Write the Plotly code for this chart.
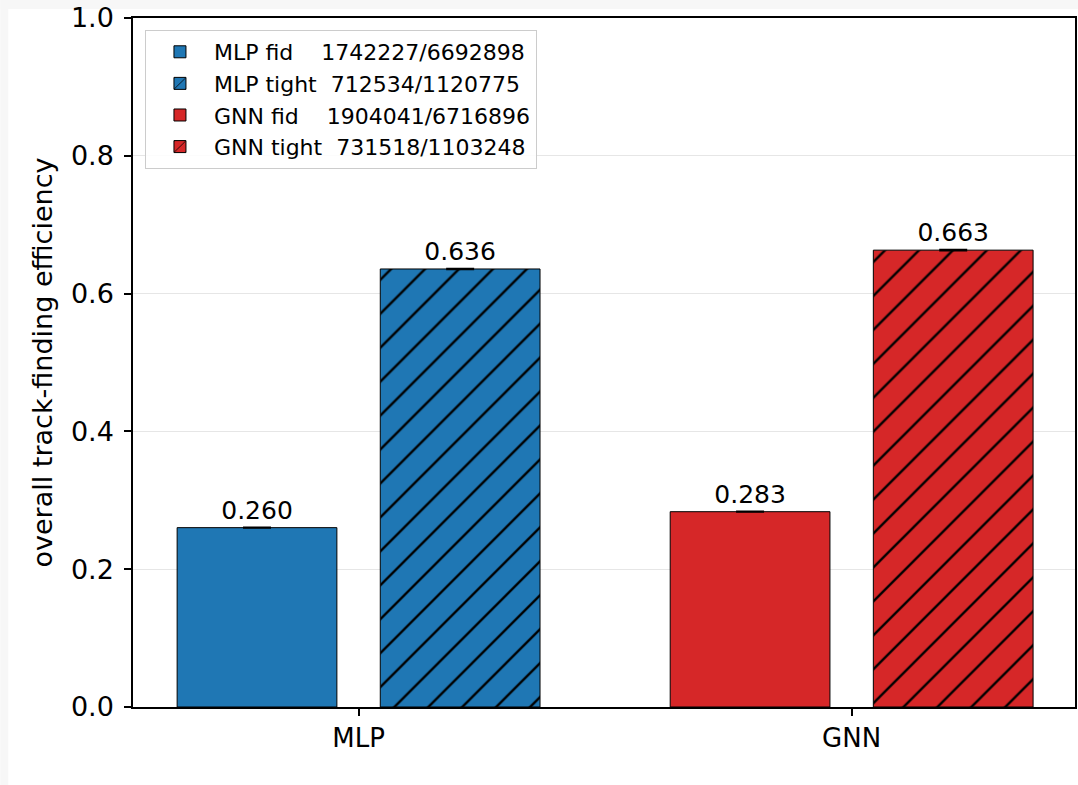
import math
import plotly.graph_objects as go

# ---- data ----
categories = ["MLP", "GNN"]
series_names = ["MLP fid", "MLP tight", "GNN fid", "GNN tight"]
series_category = ["MLP", "MLP", "GNN", "GNN"]
numerators = [1742227, 712534, 1904041, 731518]
denominators = [6692898, 1120775, 6716896, 1103248]
legend_gaps = [4, 2, 4, 2]
y_ticks = [0.0, 0.2, 0.4, 0.6, 0.8, 1.0]

# ---- styles ----
BLUE = "#1f77b4"
RED = "#d62728"
colors = [BLUE, BLUE, RED, RED]
hatched = [False, True, False, True]
offsets = [-0.368, 0.044, -0.368, 0.044]
BAR_W = 0.324
FONT = "DejaVu Sans, Liberation Sans, sans-serif"

fig = go.Figure()
for name, cat, num, den, col, hat, off, gap in zip(
        series_names, series_category, numerators, denominators,
        colors, hatched, offsets, legend_gaps):
    p = num / den
    err = math.sqrt(p * (1 - p) / den)
    label = name + "\u00a0" * gap + f"{num}/{den}"
    marker = dict(color=col, line=dict(color="black", width=1))
    if hat:
        marker["pattern"] = dict(shape="/", fgcolor="black", bgcolor=col,
                                 size=24, solidity=0.1, fillmode="replace")
    fig.add_trace(go.Bar(
        x=[cat], y=[p], name=label,
        width=BAR_W, offset=off,
        marker=marker,
        error_y=dict(type="data", array=[err], visible=True,
                     color="black", thickness=2, width=14),
        text=[f"{p:.3f}"], textposition="outside",
        textfont=dict(family=FONT, size=25, color="black"),
        cliponaxis=False,
    ))

fig.update_layout(
    width=1078, height=785,
    margin=dict(l=133, r=1, t=18, b=78),
    paper_bgcolor="white", plot_bgcolor="white",
    barmode="overlay",
    font=dict(family=FONT, size=22, color="black"),
    showlegend=True,
    legend=dict(x=0.0127, y=0.9826, xanchor="left", yanchor="top",
                bgcolor="rgba(255,255,255,0.85)", bordercolor="#cccccc",
                borderwidth=1, font=dict(family=FONT, size=22, color="black"),
                tracegroupgap=0, traceorder="normal", itemwidth=58),
    xaxis=dict(
        type="category", categoryorder="array", categoryarray=categories,
        range=[-0.4575, 1.453],
        showline=True, linecolor="black", linewidth=1.5, mirror=True,
        ticks="outside", ticklen=7, tickwidth=1.5, tickcolor="black",
        tickfont=dict(family=FONT, size=26, color="black"),
        ticklabelstandoff=0,
        showgrid=False,
    ),
    yaxis=dict(
        range=[0, 1.0], tickvals=y_ticks,
        ticktext=[f"{v:.1f}" for v in y_ticks],
        showline=True, linecolor="black", linewidth=1.5, mirror=True,
        ticks="outside", ticklen=7, tickwidth=1.5, tickcolor="black",
        tickfont=dict(family=FONT, size=27, color="black"),
        ticklabelstandoff=5,
        showgrid=True, gridcolor="#e6e6e6", gridwidth=1,
        zeroline=False,
        title=dict(text="overall track-finding efficiency",
                   font=dict(family=FONT, size=27, color="black"), standoff=10),
    ),
    shapes=[
        dict(type="rect", xref="paper", yref="paper",
             x0=-133 / 944, x1=1.01, y0=1 + 9 / 689, y1=1 + 18 / 689,
             fillcolor="#f7f7f7", line=dict(width=0), layer="below"),
        dict(type="rect", xref="paper", yref="paper",
             x0=-133 / 944, x1=-125 / 944, y0=-78 / 689, y1=1 + 18 / 689,
             fillcolor="#f7f7f7", line=dict(width=0), layer="below"),
    ],
)

fig.write_html("out.html")
